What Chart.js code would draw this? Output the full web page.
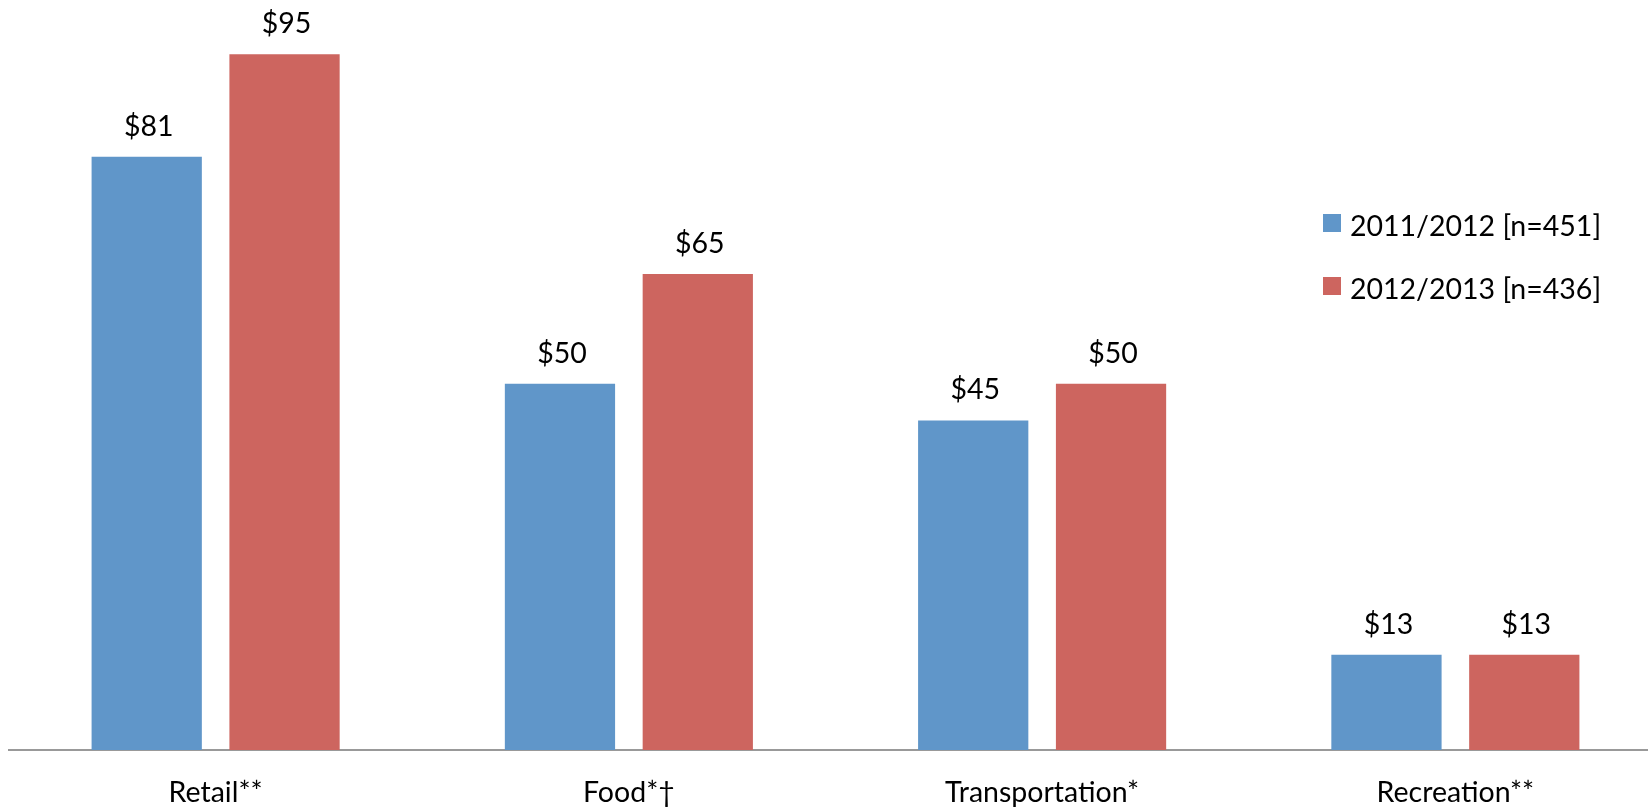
<!DOCTYPE html>
<html lang="en">
<head>
  <meta charset="UTF-8" />
  <title>Spending by category</title>
  <script src="https://cdn.jsdelivr.net/npm/chart.js"></script>
  <style>
    html, body { margin:0; padding:0; background:#fff; overflow:hidden; }
    .wrap { width:1662px; height:807px; position:relative; }
  </style>
</head>
<body>
<div class="wrap"><canvas id="spendChart"></canvas></div>

<script>
// data
const categories = ["Retail**", "Food*\u2020", "Transportation*", "Recreation**"];
const seriesNames = ["2011/2012 [n=451]", "2012/2013 [n=436]"];
const values2011 = [81, 50, 45, 13];
const values2012 = [95, 65, 50, 13];
const colors = ["#6096C9", "#CD655F"];

const FONT = "Lato, 'Open Sans', sans-serif";
const FSIZE = 28.5;

// dollar labels above each bar
const barLabels = {
  id: 'barLabels',
  afterDatasetsDraw(chart) {
    const ctx = chart.ctx;
    ctx.save();
    ctx.font = FSIZE + "px " + FONT;
    ctx.fillStyle = "#000";
    ctx.textAlign = "center";
    ctx.textBaseline = "alphabetic";
    chart.data.datasets.forEach((ds, i) => {
      chart.getDatasetMeta(i).data.forEach((bar, j) => {
        ctx.fillText("$" + ds.data[j], bar.x + 2, bar.y - 21);
      });
    });
    ctx.restore();
  }
};

// legend floating inside the plot, on the right
const floatLegend = {
  id: 'floatLegend',
  afterDraw(chart, args, opts) {
    const ctx = chart.ctx;
    ctx.save();
    ctx.font = FSIZE + "px " + FONT;
    ctx.textAlign = "left";
    ctx.textBaseline = "alphabetic";
    chart.data.datasets.forEach((ds, i) => {
      const top = opts.y + i * opts.step;
      ctx.fillStyle = ds.backgroundColor;
      ctx.fillRect(opts.x, top, 18, 18);
      ctx.fillStyle = "#000";
      ctx.fillText(ds.label, opts.x + 27, top + 22);
    });
    ctx.restore();
  }
};

new Chart(document.getElementById('spendChart'), {
  type: 'bar',
  data: {
    labels: categories,
    datasets: [
      { label: seriesNames[0], data: values2011, backgroundColor: colors[0] },
      { label: seriesNames[1], data: values2012, backgroundColor: colors[1] }
    ]
  },
  options: {
    responsive: true,
    maintainAspectRatio: false,
    animation: false,
    layout: { padding: { left: 9, right: 0, top: 0, bottom: 0 } },
    categoryPercentage: 0.667,
    barPercentage: 0.8,
    plugins: {
      legend: { display: false },
      tooltip: { enabled: false },
      floatLegend: { x: 1323, y: 214, step: 63 }
    },
    scales: {
      x: {
        grid: { display: false, drawTicks: false },
        border: { display: true, color: "#999999", width: 2 },
        ticks: { color: "#000", font: { family: FONT, size: FSIZE }, padding: 26, maxRotation: 0 },
        afterFit(scale) { scale.height = 57; }
      },
      y: {
        display: false,
        min: 0,
        max: 102.4
      }
    }
  },
  plugins: [barLabels, floatLegend]
});
</script>
</body>
</html>
